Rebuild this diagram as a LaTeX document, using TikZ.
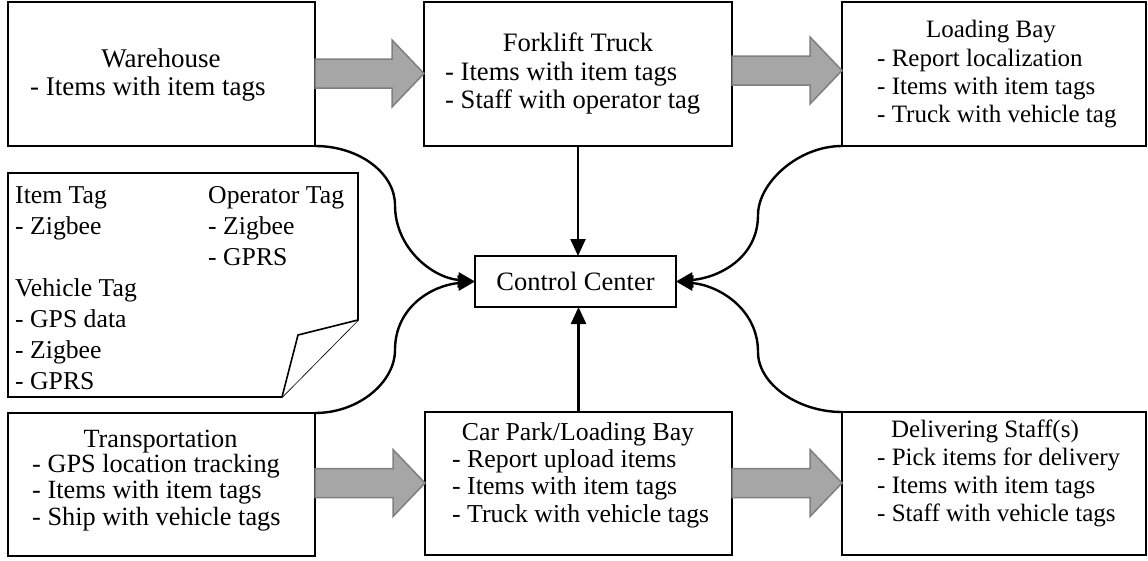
\documentclass[tikz,border=0pt]{standalone}
\usepackage{fontspec}
\setmainfont{Liberation Serif}
\usetikzlibrary{arrows.meta,calc}
\definecolor{arrfill}{HTML}{A6A6A6}
\definecolor{arrline}{HTML}{7F7F7F}
\newcommand\fs[2]{\fontsize{#1}{#2}\selectfont}
\newcommand\garr[3]{% from node, to node, centre y
  \coordinate (GA) at (#1.east |- 0,#3);
  \coordinate (GB) at (#2.west |- 0,#3);
  \draw[garrow] ($(GA)+(0,-14.5)$) -- ($(GB)+(-32,-14.5)$) -- ($(GB)+(-32,-33.5)$)
     -- (GB) -- ($(GB)+(-32,33.5)$) -- ($(GB)+(-32,14.5)$) -- ($(GA)+(0,14.5)$) -- cycle;}
\begin{document}
\begin{tikzpicture}[x=1pt,y=-1pt,
  box/.style={draw=black,line width=1.6pt,rectangle,inner sep=0pt,outer sep=0pt,fill=white},
  ttl/.style={anchor=base,inner sep=0pt},
  bul/.style={anchor=base west,inner sep=0pt},
  garrow/.style={fill=arrfill,draw=arrline,line width=1.5pt,line join=miter},
  conn/.style={line width=2.4pt,-{Triangle[length=17pt,width=15pt]}},
  notebox/.style={draw=black,line width=1.6pt,line join=miter,fill=white}]
\useasboundingbox (0,0) rectangle (1148,560);

% boxes
\node[box,minimum width=307pt,minimum height=144pt] (wh) at (161.5,74) {};
\node[box,minimum width=308pt,minimum height=144pt] (fk) at (578,74) {};
\node[box,minimum width=304pt,minimum height=144pt] (lb) at (994,74) {};
\node[box,minimum width=307pt,minimum height=143pt] (tr) at (161.5,484.5) {};
\node[box,minimum width=307pt,minimum height=143pt] (cp) at (578.5,483.5) {};
\node[box,minimum width=304pt,minimum height=143pt] (ds) at (994,483.5) {};
\node[box,minimum width=201pt,minimum height=51pt,font=\fs{26.5}{28}] (cc) at (575.5,281.5) {Control Center};

% texts
\node[ttl,font=\fs{27}{28}] (whT) at (161,67) {Warehouse};
\node[bul,font=\fs{27}{28}] (whB) at (30,95) {\begin{tabular}[t]{@{}l@{}}- Items with item tags\end{tabular}};

\node[ttl,font=\fs{26.6}{28}] (fkT) at (578,51) {Forklift Truck};
\node[bul,font=\fs{26.6}{28}] (fkB) at (445,80) {\begin{tabular}[t]{@{}l@{}}- Items with item tags\\- Staff with operator tag\end{tabular}};

\node[ttl,font=\fs{25}{28}] (lbT) at (991,37) {Loading Bay};
\node[bul,font=\fs{25}{28}] (lbB) at (877,66) {\begin{tabular}[t]{@{}l@{}}- Report localization\\- Items with item tags\\- Truck with vehicle tag\end{tabular}};

\node[ttl,font=\fs{26.3}{26.5}] (trT) at (160.5,447) {Transportation};
\node[bul,font=\fs{26.3}{26.5}] (trB) at (32,472) {\begin{tabular}[t]{@{}l@{}}- GPS location tracking\\- Items with item tags\\- Ship with vehicle tags\end{tabular}};

\node[ttl,font=\fs{25.8}{27.5}] (cpT) at (578,440) {Car Park/Loading Bay};
\node[bul,font=\fs{25.8}{27.5}] (cpB) at (452,467) {\begin{tabular}[t]{@{}l@{}}- Report upload items\\- Items with item tags\\- Truck with vehicle tags\end{tabular}};

\node[ttl,font=\fs{25}{28}] (dsT) at (985,437) {Delivering Staff(s)};
\node[bul,font=\fs{25}{28}] (dsB) at (877,465) {\begin{tabular}[t]{@{}l@{}}- Pick items for delivery\\- Items with item tags\\- Staff with vehicle tags\end{tabular}};

% note with folded corner
\draw[notebox] (8,173) -- (358,173) -- (358,320) -- (282,397) -- (8,397) -- cycle;
\draw[notebox] (358,320) -- (298,335) -- (282,397);
\node[bul,font=\fs{25.7}{31}] (noteL) at (15,203) {\begin{tabular}[t]{@{}l@{}}Item Tag\\- Zigbee\\ \\Vehicle Tag\\- GPS data\\- Zigbee\\- GPRS\end{tabular}};
\node[bul,font=\fs{25.7}{31}] (noteR) at (208,203) {\begin{tabular}[t]{@{}l@{}}Operator Tag\\- Zigbee\\- GPRS\end{tabular}};

% block arrows
\garr{wh}{fk}{73.5}
\garr{fk}{lb}{70.5}
\garr{tr}{cp}{483}
\garr{cp}{ds}{483}

% connectors to control center
\coordinate (ml1) at (395,205);
\coordinate (ml2) at (395,350);
\coordinate (mr1) at (758,215);
\coordinate (mr2) at (758,352);
\draw[conn] (wh.south east) .. controls +(44,0) and +(0,-32) .. (ml1) .. controls +(0,43) and +(-43,-4) .. (cc.west);
\draw[conn] (tr.north east) .. controls +(44,0) and +(0,32) .. (ml2) .. controls +(0,-43) and +(-43,4) .. (cc.west);
\draw[conn] (lb.south west) .. controls +(-44,0) and +(0,-32) .. (mr1) .. controls +(0,43) and +(43,-4) .. (cc.east);
\draw[conn] (ds.north west) .. controls +(-44,0) and +(0,32) .. (mr2) .. controls +(0,-43) and +(43,4) .. (cc.east);
\draw[conn] (fk.south) -- (fk.south |- cc.north);
\draw[conn] (cp.north) -- (cp.north |- cc.south);
\end{tikzpicture}
\end{document}
